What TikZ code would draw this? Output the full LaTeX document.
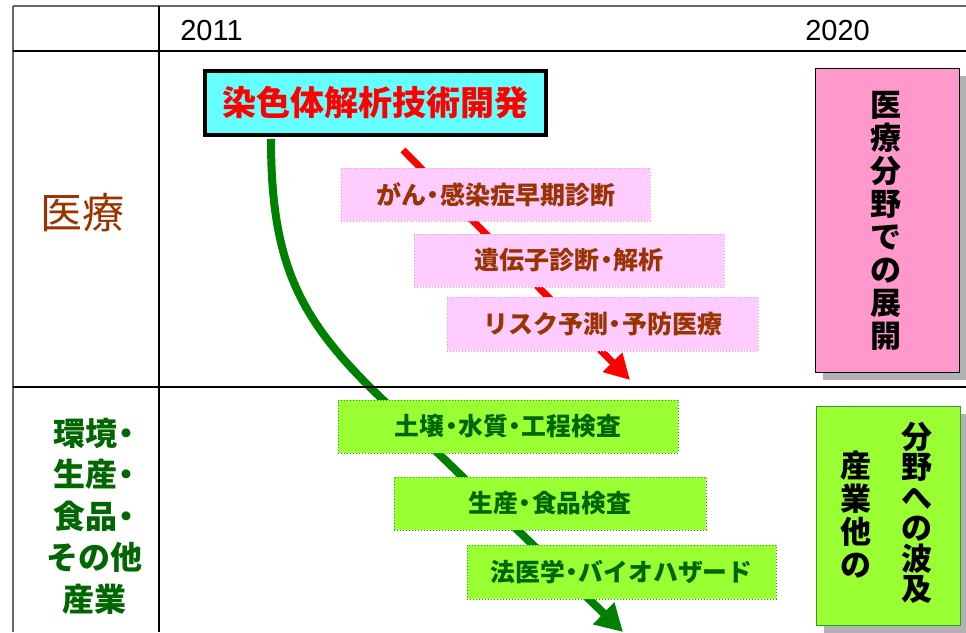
\documentclass[tikz,border=0pt]{standalone}
\usepackage{fontspec}
\setmainfont{Noto Sans CJK JP}
\newfontfamily\latfont{Liberation Sans}
\usetikzlibrary{arrows.meta,shadows}
\definecolor{cyanfill}{HTML}{66FFFF}
\definecolor{pinkfill}{HTML}{FFCCFF}
\definecolor{pinkline}{HTML}{FF99CC}
\definecolor{medbrown}{HTML}{993300}
\definecolor{limefill}{HTML}{99FF33}
\definecolor{limeline}{HTML}{339933}
\definecolor{dkgreen}{HTML}{006600}
\definecolor{arrgreen}{HTML}{008000}
\definecolor{hotpink}{HTML}{FF99CC}
\definecolor{shadowgray}{HTML}{B2B2B2}
\newcommand\nak{\kern-0.22em・\kern-0.22em}
\begin{document}
\begin{tikzpicture}[x=1pt,y=-1pt,
  tabline/.style={line width=1.3pt,black},
  outline/.style={line width=1.3pt,black!60},
  yearlbl/.style={font=\latfont\fontsize{29}{29}\selectfont,inner sep=0pt},
  mainbox/.style={draw=black,line width=4pt,fill=cyanfill,minimum width=341pt,minimum height=64pt,inner sep=0pt,text=red,font=\fontsize{34}{34}\selectfont\bfseries},
  medbox/.style={draw=pinkline,dotted,line width=1pt,fill=pinkfill,minimum height=53pt,inner sep=0pt,text=medbrown,font=\fontsize{25}{25}\selectfont\bfseries},
  indbox/.style={draw=limeline,dotted,line width=1pt,fill=limefill,minimum height=53pt,inner sep=0pt,text=dkgreen,font=\fontsize{24.8}{24.8}\selectfont\bfseries},
  sidebox/.style={line width=1pt,minimum width=144pt,inner sep=0pt,drop shadow={shadow xshift=8pt,shadow yshift=-8pt,fill=shadowgray,opacity=1}},
  vtext/.style={inner sep=0pt,align=center,text=black,font=\fontsize{31}{33}\selectfont\bfseries},
  redarrow/.style={red,line width=7pt,-{Triangle[length=25pt,width=26pt]}},
  greenarrow/.style={arrgreen,line width=8pt,-{Triangle[length=27pt,width=29pt]}}
]
\useasboundingbox (0,0) rectangle (966,632);

% arrows (behind boxes)
\coordinate (rs) at (403,150);
\coordinate (re) at (630,380);
\coordinate (gs) at (271,139);
\coordinate (gm) at (380,397);
\coordinate (ge) at (623,632);
\draw[redarrow] (rs) -- (re);
\draw[greenarrow] (gs) .. controls (271,265) and (300,320) .. (gm) -- (ge);

% table
\draw[outline] (13,6) -- (966,6);
\draw[outline] (13,6) -- (13,632);
\draw[tabline] (159,6) -- (159,632);
\draw[tabline] (13,51) -- (966,51);
\draw[tabline] (13,387) -- (966,387);

% years
\node[yearlbl] (y1) at (211.5,31) {2011};
\node[yearlbl] (y2) at (837.5,31) {2020};

% row labels
\node[inner sep=0pt,text=medbrown,font=\fontsize{42}{42}\selectfont] (lmed) at (82,213) {医療};
\node[inner sep=0pt,align=center,text=dkgreen,font=\fontsize{32}{41.5}\selectfont\bfseries] (lind) at (94,516)
  {環境\nak\\生産\nak\\食品\nak\\その他\\産業};

% main box
\node[mainbox] (main) at (375.5,103) {染色体解析技術開発};

% medical boxes
\node[medbox,minimum width=309pt] (m1) at (495.5,194.5) {がん\nak 感染症早期診断};
\node[medbox,minimum width=310pt] (m2) at (569,260.5) {遺伝子診断\nak 解析};
\node[medbox,minimum width=311pt,minimum height=54pt] (m3) at (602.5,324) {リスク予測\nak 予防医療};

% industry boxes
\node[indbox,minimum width=340pt] (i1) at (508,426.5) {土壌\nak 水質\nak 工程検査};
\node[indbox,minimum width=312pt] (i2) at (550,503.5) {生産\nak 食品検査};
\node[indbox,minimum width=309pt,minimum height=54pt] (i3) at (621.5,572) {法医学\nak バイオハザード};

% side boxes
\node[sidebox,draw=black,fill=hotpink,minimum height=304pt] (sp) at (887,220) {};
\node[vtext] (spt) at (886,221) {医\\療\\分\\野\\で\\の\\展\\開};
\node[sidebox,draw=limeline,fill=limefill,minimum height=219pt] (sg) at (888,515.5) {};
\node[vtext,font=\fontsize{31}{30.5}\selectfont\bfseries] (sgr) at (917,513) {分\\野\\へ\\の\\波\\及};
\node[vtext,font=\fontsize{31}{33}\selectfont\bfseries] (sgl) at (856,515) {産\\業\\他\\の};
\end{tikzpicture}
\end{document}
